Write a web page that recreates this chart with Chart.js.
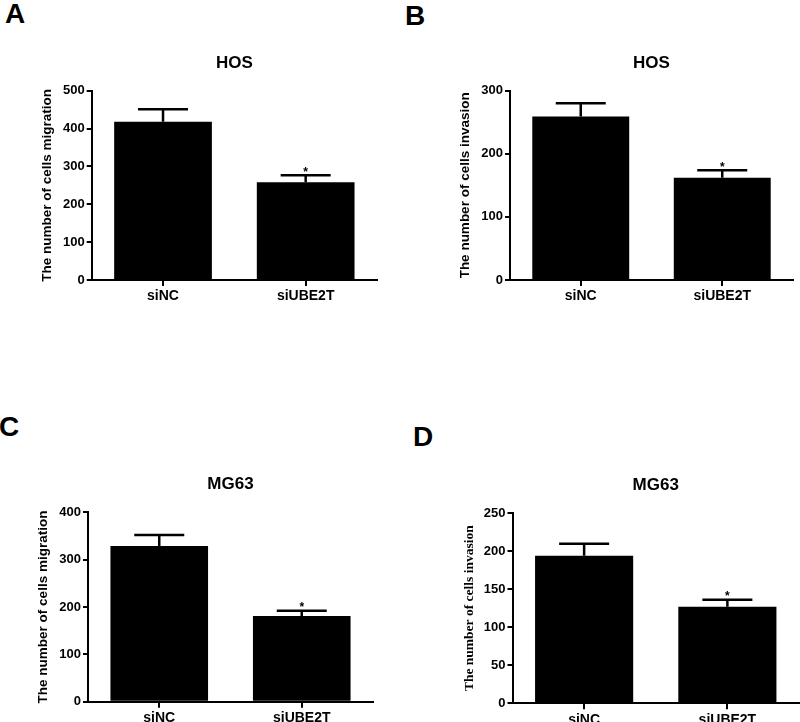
<!DOCTYPE html>
<html><head><meta charset="utf-8">
<script src="https://cdn.jsdelivr.net/npm/chart.js@4.4.0/dist/chart.umd.min.js"></script>
<style>
html,body{margin:0;padding:0;background:#fff;width:800px;height:722px;overflow:hidden;position:relative}
canvas{position:absolute;left:0;top:0}
.lbl{position:absolute;font:bold 28px "Liberation Sans",Arial,sans-serif;line-height:28px;color:#000}
</style></head><body>
<div class="lbl" style="left:5px;top:0px">A</div>
<div class="lbl" style="left:405px;top:2px">B</div>
<div class="lbl" style="left:-1px;top:413px">C</div>
<div class="lbl" style="left:413px;top:423px">D</div>
<canvas id="cA" width="810" height="760"></canvas>
<canvas id="cB" width="810" height="760"></canvas>
<canvas id="cC" width="810" height="760"></canvas>
<canvas id="cD" width="810" height="760"></canvas>
<script>
// ---- data ----
const categories = ['siNC', 'siUBE2T'];
const panelTitles = ['HOS', 'HOS', 'MG63', 'MG63'];
const yTitles = ['The number of cells migration', 'The number of cells invasion',
                 'The number of cells migration', 'The number of cells invasion'];
const hosMigration = [418, 258];
const hosMigrationSem = [33, 19];
const hosInvasion = [259, 162];
const hosInvasionSem = [21, 12];
const mg63Migration = [329, 181];
const mg63MigrationSem = [23, 11];
const mg63Invasion = [194, 127];
const mg63InvasionSem = [15.5, 9];
const significant = [false, true];
const yMax = [500, 300, 400, 250];
const yStep = [100, 100, 100, 50];

// ---- layout (pixel frames of each plot area) ----
const frames = [
  {L: 91.7, R: 377, T: 90.7, B: 280, titleY: 63, yTitleX: 47, serif: false},
  {L: 510, R: 793, T: 90.7, B: 280, titleY: 63, yTitleX: 465, serif: false},
  {L: 88, R: 373, T: 512.3, B: 701.7, titleY: 484, yTitleX: 43.5, serif: false},
  {L: 512.5, R: 799, T: 513, B: 703.3, titleY: 485, yTitleX: 470, serif: true}
];
const CW = 810, CH = 760, XH = 30;
const SANS = '"Liberation Sans", Arial, Helvetica, sans-serif';
Chart.defaults.font.family = SANS;
Chart.defaults.color = '#000';

const errorBars = {
  id: 'errorBars',
  afterDatasetsDraw(chart, args, opts) {
    const meta = chart.getDatasetMeta(0);
    const ys = chart.scales.y;
    const ctx = chart.ctx;
    const vals = chart.data.datasets[0].data;
    ctx.save();
    ctx.strokeStyle = '#000';
    ctx.fillStyle = '#000';
    ctx.lineWidth = 2.5;
    meta.data.forEach((bar, i) => {
      const v = vals[i];
      const e = opts.sem[i];
      const yb = ys.getPixelForValue(v);
      const yt = ys.getPixelForValue(v + e);
      ctx.beginPath();
      ctx.moveTo(bar.x, yb);
      ctx.lineTo(bar.x, yt);
      ctx.moveTo(bar.x - 25, yt);
      ctx.lineTo(bar.x + 25, yt);
      ctx.stroke();
      if (opts.sig[i]) {
        ctx.font = 'bold 12px ' + SANS;
        ctx.textAlign = 'center';
        ctx.textBaseline = 'alphabetic';
        ctx.fillText('*', bar.x, yt + 0.5);
      }
    });
    ctx.restore();
  }
};

function makeChart(id, k, values, sem) {
  const f = frames[k];
  const titleLH = 17 * 1.2;
  const ytSize = 13.5;
  const ytLH = ytSize * 1.2;
  const padLeft = f.yTitleX - ytLH / 2 - 2;
  const ytFont = {size: ytSize, weight: 'bold'};
  if (f.serif) ytFont.family = '"Liberation Serif", "Times New Roman", serif';
  new Chart(document.getElementById(id), {
    type: 'bar',
    data: {
      labels: categories,
      datasets: [{data: values, backgroundColor: '#000', borderWidth: 0,
                  barPercentage: 0.685, categoryPercentage: 1}]
    },
    options: {
      responsive: false,
      animation: false,
      events: [],
      layout: {padding: {left: padLeft, right: CW - f.R, top: 0, bottom: CH - f.B - XH}},
      plugins: {
        legend: {display: false},
        tooltip: {enabled: false},
        title: {
          display: true, text: panelTitles[k], fullSize: false, color: '#000',
          font: {size: 17, weight: 'bold'},
          padding: {top: f.titleY - titleLH / 2, bottom: f.T - f.titleY - titleLH / 2}
        },
        errorBars: {sem: sem, sig: significant}
      },
      scales: {
        x: {
          type: 'category', offset: true,
          grid: {offset: false, drawOnChartArea: false, drawTicks: true, tickLength: 6, color: '#000', lineWidth: 2},
          border: {display: true, color: '#000', width: 2},
          ticks: {font: {size: 14, weight: 'bold'}, color: '#000', padding: 2, maxRotation: 0, autoSkip: false},
          afterFit(s) { s.height = XH; }
        },
        y: {
          min: 0, max: yMax[k],
          ticks: {stepSize: yStep[k], font: {size: 13, weight: 'bold'}, color: '#000', padding: 2},
          grid: {drawOnChartArea: false, drawTicks: true, tickLength: 5, color: '#000', lineWidth: 2},
          border: {display: true, color: '#000', width: 2},
          title: {display: true, text: yTitles[k], font: ytFont, color: '#000', padding: {top: 2, bottom: 0}},
          afterFit(s) { s.width = f.L - padLeft; }
        }
      }
    },
    plugins: [errorBars]
  });
}

makeChart('cA', 0, hosMigration, hosMigrationSem);
makeChart('cB', 1, hosInvasion, hosInvasionSem);
makeChart('cC', 2, mg63Migration, mg63MigrationSem);
makeChart('cD', 3, mg63Invasion, mg63InvasionSem);
</script>
</body></html>
